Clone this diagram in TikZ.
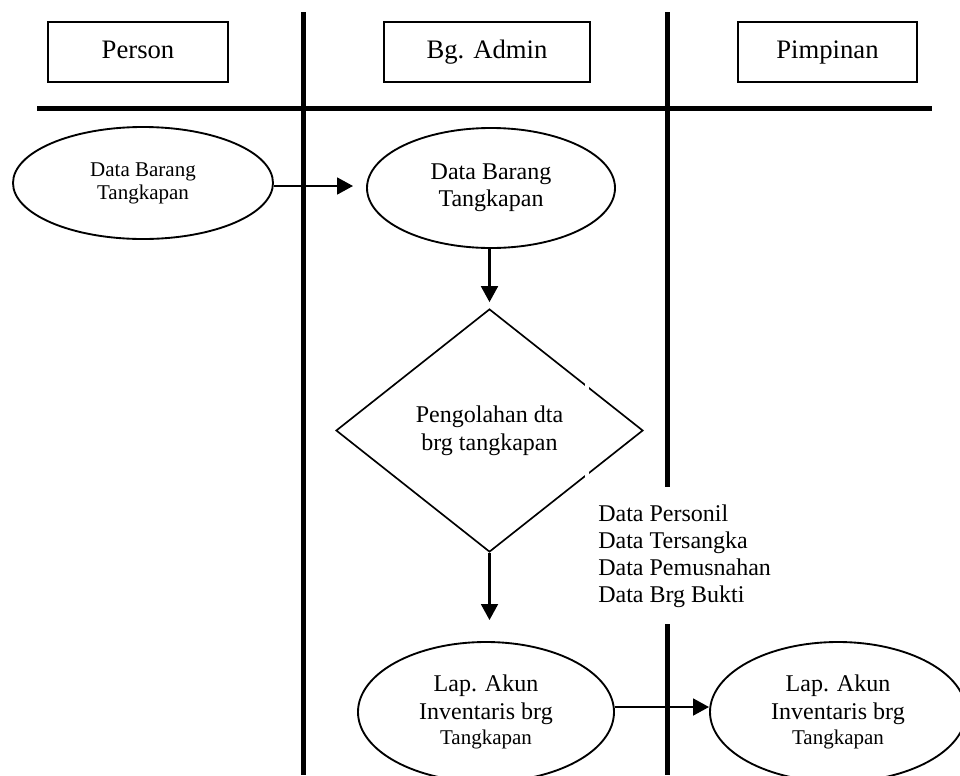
\documentclass[tikz,border=0pt]{standalone}
\usepackage{fontspec}
\setmainfont{Liberation Serif}
\usetikzlibrary{shapes.geometric,arrows.meta}
\tikzset{
  lane/.style={line width=3.75pt},
  hdr/.style={draw, line width=1.1pt, minimum height=45pt, inner sep=0pt, text height=14pt, text depth=5pt, font=\fontsize{20}{24}\selectfont},
  oval/.style={draw, ellipse, line width=1.4pt, inner sep=0pt, align=center},
  decide/.style={draw, diamond, line width=1.25pt, inner sep=0pt, align=center,
    minimum width=230.25pt, minimum height=182.25pt, font=\fontsize{18}{21}\selectfont},
  arr/.style={line width=2.1pt, -{Triangle[length=12pt,width=12.5pt]}}
}
\begin{document}
\begin{tikzpicture}[x=0.75pt,y=-0.75pt]
\clip (0,0) rectangle (960,775);
\fill[white] (0,0) rectangle (960,775);
% swimlane lines
\draw[lane] (37,108) -- (932,108);
\draw[lane] (303,12) -- (303,775);
\draw[lane] (667.5,12) -- (667.5,487);
\draw[lane] (667.5,624) -- (667.5,775);
% headers
\node[hdr, minimum width=135pt] (hperson) at (138,52) {Person};
\node[hdr, minimum width=154.5pt] (hadmin) at (487,52) {Bg. Admin};
\node[hdr, minimum width=134.25pt] (hpimp) at (827.5,52) {Pimpinan};
% nodes
\node[oval, minimum width=195pt, minimum height=84pt, font=\fontsize{15.75}{17.25}\selectfont] (e1) at (143,183) {Data Barang\\Tangkapan};
\node[oval, minimum width=186pt, minimum height=90pt, font=\fontsize{18}{20.25}\selectfont] (e2) at (491,188) {Data Barang\\Tangkapan};
\node[decide] (d) at (489.5,430.5) {Pengolahan dta\\brg tangkapan};
\draw[white, line width=2.5pt] (587,378) -- (587,482);
\node[oval, minimum width=192pt, minimum height=105pt, font=\fontsize{18}{20.5}\selectfont] (e3) at (486,712)
  {Lap. Akun\\Inventaris brg\\[-1.5pt]{\fontsize{15.75}{17}\selectfont Tangkapan}};
\node[oval, minimum width=192pt, minimum height=105pt, font=\fontsize{18}{20.5}\selectfont] (e4) at (838,712)
  {Lap. Akun\\Inventaris brg\\[-1.5pt]{\fontsize{15.75}{17}\selectfont Tangkapan}};
\node[anchor=north west, inner sep=0pt, align=left, font=\fontsize{18}{20.25}\selectfont] (data) at (598,505)
  {Data Personil\\Data Tersangka\\Data Pemusnahan\\Data Brg Bukti};
% connectors
\draw[arr] ([yshift=-2.25pt]e1.east) -- ([xshift=-9.75pt,yshift=-2.25pt]e1.east -| e2.west);
\draw[arr] (d.north |- e2.south) -- ([yshift=4.5pt]d.north);
\draw[arr] (d.south) -- ([yshift=15.75pt]d.south |- e3.north);
\draw[arr] ([yshift=3.75pt]e3.east) -- ([yshift=3.75pt]e4.west);
\end{tikzpicture}
\end{document}
